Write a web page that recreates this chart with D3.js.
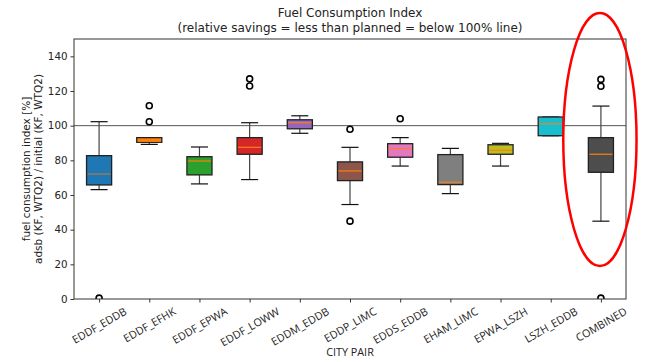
<!DOCTYPE html>
<html>
<head>
<meta charset="utf-8">
<script src="https://cdn.jsdelivr.net/npm/d3@7"></script>
<style>
  body { margin: 0; background: #fff; }
  text { font-family: "DejaVu Sans", sans-serif; fill: #222; }
</style>
</head>
<body>
<div id="chart"></div>
<script>
// city pairs and box statistics
const categories = ["EDDF_EDDB", "EDDF_EFHK", "EDDF_EPWA", "EDDF_LOWW", "EDDM_EDDB", "EDDP_LIMC",
  "EDDS_EDDB", "EHAM_LIMC", "EPWA_LSZH", "LSZH_EDDB", "COMBINED"]
const whiskerLow = [63.1, 89.2, 66.4, 68.9, 95.6, 54.5, 76.7, 60.8, 76.7, 94.2, 44.9]
const q1 = [65.8, 90.4, 71.6, 83.5, 98.2, 68.3, 81.8, 66.0, 83.5, 94.2, 73.1]
const median = [72.1, 91.0, 79.6, 87.5, 101.7, 73.9, 86.8, 67.4, 85.8, 101.1, 83.5]
const q3 = [82.7, 93.1, 82.1, 93.1, 103.4, 79.1, 89.6, 83.3, 89.0, 105.0, 93.1]
const whiskerHigh = [102.3, 93.1, 87.7, 101.7, 105.7, 87.5, 93.1, 86.9, 89.8, 105.0, 111.3]
const outliers = [[0.5], [102.3, 111.5], [], [122.9, 127.0], [], [44.9, 97.9], [104.0], [], [], [], [0.5, 122.7, 126.7]]
const yTicks = [0, 20, 40, 60, 80, 100, 120, 140]
const refLine = 100

const palette = ["#1f77b4", "#ff7f0e", "#2ca02c", "#d62728", "#9467bd", "#8c564b",
  "#e377c2", "#7f7f7f", "#bcbd22", "#17becf", "#4d4d4d"]

const W = 656, H = 362
const mLeft = 74, mRight = 626, mTop = 39, mBottom = 299

const svg = d3.select("#chart").append("svg")
  .attr("width", W).attr("height", H)

const x = d3.scalePoint().domain(categories).range([mLeft, mRight]).padding(0.5)
const y = d3.scaleLinear().domain([0, 150]).range([mBottom, mTop])
const step = x.step()

svg.append("clipPath").attr("id", "plotClip")
  .append("rect").attr("x", mLeft).attr("y", mTop)
  .attr("width", mRight - mLeft).attr("height", mBottom - mTop)

const plot = svg.append("g").attr("clip-path", "url(#plotClip)")

// 100% line
plot.append("line")
  .attr("x1", mLeft).attr("x2", mRight)
  .attr("y1", y(refLine)).attr("y2", y(refLine))
  .attr("stroke", "#555").attr("stroke-width", 1)

const stats = categories.map((c, i) => ({
  c, lo: whiskerLow[i], q1: q1[i], med: median[i], q3: q3[i], hi: whiskerHigh[i],
  out: outliers[i], color: palette[i]
}))

const g = plot.selectAll("g.box").data(stats).join("g").attr("class", "box")

// whiskers
g.append("line")
  .attr("x1", d => x(d.c)).attr("x2", d => x(d.c))
  .attr("y1", d => y(d.q3)).attr("y2", d => y(d.hi))
  .attr("stroke", "#444").attr("stroke-width", 1.2)
g.append("line")
  .attr("x1", d => x(d.c)).attr("x2", d => x(d.c))
  .attr("y1", d => y(d.q1)).attr("y2", d => y(d.lo))
  .attr("stroke", "#444").attr("stroke-width", 1.2)
// caps
g.selectAll("line.cap").data(d => [{ c: d.c, v: d.lo }, { c: d.c, v: d.hi }]).join("line")
  .attr("class", "cap")
  .attr("x1", d => x(d.c) - step * 0.17).attr("x2", d => x(d.c) + step * 0.17)
  .attr("y1", d => y(d.v)).attr("y2", d => y(d.v))
  .attr("stroke", "#111").attr("stroke-width", 1.2)

// boxes
g.append("rect")
  .attr("x", d => x(d.c) - step * 0.25)
  .attr("width", step * 0.5)
  .attr("y", d => y(d.q3))
  .attr("height", d => Math.max(1, y(d.q1) - y(d.q3)))
  .attr("fill", d => d.color)
  .attr("stroke", "#222").attr("stroke-width", 1.3)

// medians
g.append("line")
  .attr("x1", d => x(d.c) - step * 0.25 + 1).attr("x2", d => x(d.c) + step * 0.25 - 1)
  .attr("y1", d => y(d.med)).attr("y2", d => y(d.med))
  .attr("stroke", "#ff7f0e").attr("stroke-width", 1.3)
  .attr("stroke-opacity", d => d.c === "EDDF_EDDB" ? 0.6 : 0.9)

// fliers
g.selectAll("circle").data(d => d.out.map(v => ({ c: d.c, v }))).join("circle")
  .attr("cx", d => x(d.c)).attr("cy", d => y(d.v))
  .attr("r", 3).attr("fill", "none")
  .attr("stroke", "#000").attr("stroke-width", 1.6)

// frame
svg.append("rect").attr("x", mLeft).attr("y", mTop)
  .attr("width", mRight - mLeft).attr("height", mBottom - mTop)
  .attr("fill", "none").attr("stroke", "#333").attr("stroke-width", 1)

// y axis
const yAxis = svg.append("g").attr("transform", `translate(${mLeft},0)`)
  .call(d3.axisLeft(y).tickValues(yTicks).tickSize(3.5).tickPadding(3))
yAxis.select(".domain").remove()
yAxis.selectAll("line").attr("stroke", "#333")
yAxis.selectAll("text").style("font-size", "10.3px").style("font-family", "DejaVu Sans").attr("fill", "#333")

// x axis
const xAxis = svg.append("g").attr("transform", `translate(0,${mBottom})`)
  .call(d3.axisBottom(x).tickSize(3.5).tickFormat(""))
xAxis.select(".domain").remove()
xAxis.selectAll("line").attr("stroke", "#333")

const rad = Math.PI / 6
svg.append("g").selectAll("text").data(categories).join("text")
  .text(d => d)
  .style("font-family", "Open Sans").style("font-size", "10.8px")
  .attr("fill", "#333")
  .attr("text-anchor", "middle")
  .attr("dominant-baseline", "central")
  .each(function (d) {
    const len = this.getComputedTextLength()
    const h = 11
    const cy = mBottom + 6 + (len * Math.sin(rad) + h * Math.cos(rad)) / 2
    d3.select(this).attr("transform", `translate(${x(d)},${cy}) rotate(-30)`)
  })

svg.append("text")
  .attr("x", (mLeft + mRight) / 2).attr("y", 356)
  .attr("text-anchor", "middle")
  .style("font-family", "Open Sans").style("font-size", "10.8px")
  .text("CITY PAIR")

// y label
const ylab = svg.append("text")
  .attr("transform", `translate(30,${(mTop + mBottom) / 2}) rotate(-90)`)
  .attr("text-anchor", "middle")
  .style("font-size", "10.5px")
ylab.append("tspan").attr("x", 0).attr("dy", 0).text("fuel consumption index [%]")
ylab.append("tspan").attr("x", 0).attr("dy", 12).text("adsb (KF, WTQ2) / initial (KF, WTQ2)")

// title
const title = svg.append("text")
  .attr("x", (mLeft + mRight) / 2).attr("y", 17)
  .attr("text-anchor", "middle")
  .style("font-size", "12px")
title.append("tspan").attr("x", (mLeft + mRight) / 2).text("Fuel Consumption Index")
title.append("tspan").attr("x", (mLeft + mRight) / 2).attr("dy", 14.5)
  .text("(relative savings = less than planned = below 100% line)")

// red highlight ellipse around the combined box
svg.append("ellipse")
  .attr("cx", x("COMBINED") - 1)
  .attr("cy", y(92))
  .attr("rx", step * 0.73)
  .attr("ry", y(0) - y(73))
  .attr("fill", "none")
  .attr("stroke", "#ff0000").attr("stroke-width", 2.5)
</script>
</body>
</html>
